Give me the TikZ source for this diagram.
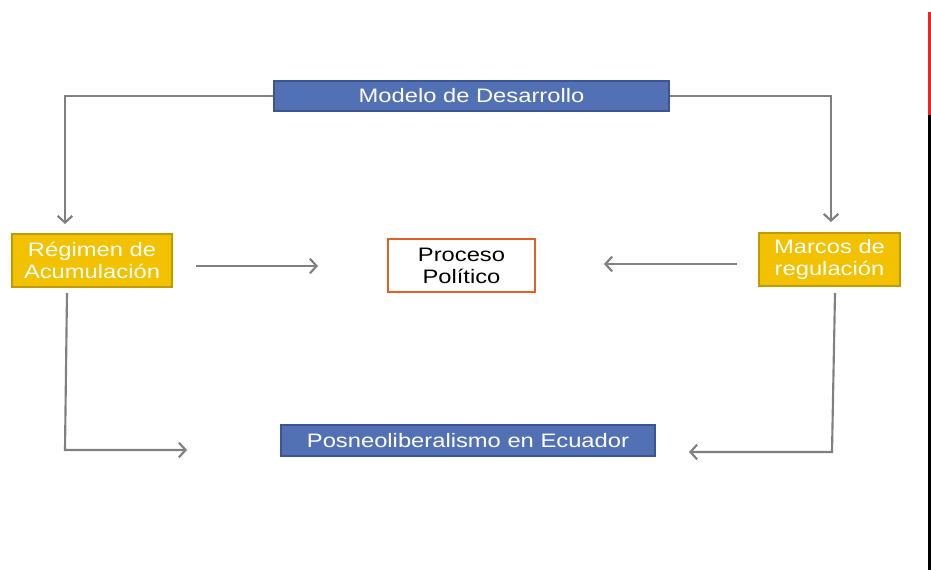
\documentclass[tikz,border=0pt]{standalone}
\usepackage{fontspec}
\usepackage{graphicx}
\setmainfont{Liberation Sans}
\usetikzlibrary{arrows.meta}
\definecolor{bluefill}{HTML}{5270B4}
\definecolor{blueline}{HTML}{3A5590}
\definecolor{yelfill}{HTML}{F2C200}
\definecolor{yelline}{HTML}{C09A00}
\definecolor{orangeline}{HTML}{E0602A}
\definecolor{conn}{HTML}{808080}
\definecolor{barred}{HTML}{E0282E}
\newcommand{\wide}[1]{\scalebox{1.22}[1]{#1}}
\tikzset{
  box/.style={draw, line width=1.2pt, inner sep=0pt, align=center,
    font=\fontsize{14.6pt}{16.5pt}\selectfont},
  bluebox/.style={box, fill=bluefill, draw=blueline, text=white},
  yelbox/.style={box, fill=yelfill, draw=yelline, text=white},
  procbox/.style={box, fill=white, draw=orangeline, text=black},
  link/.style={draw=conn, line width=1.6pt, -{Straight Barb[length=5pt,width=11pt,line width=1.6pt]}}
}
\begin{document}
\begin{tikzpicture}[x=0.75pt,y=-0.75pt]
\useasboundingbox (0,0) rectangle (931,570);
\fill[white] (0,0) rectangle (931,570);
% side bar
\fill[barred] (927.5,12) rectangle (931,115);
\fill[black] (927.5,115) rectangle (931,570);
% boxes
\node[bluebox, minimum width=296.25pt, minimum height=22.5pt] (m) at (471.5,96) {\wide{Modelo de Desarrollo}};
\node[yelbox, minimum width=120pt, minimum height=39.75pt] (r) at (92,260.5) {\wide{Régimen de}\\\wide{Acumulación}};
\node[procbox, minimum width=110.25pt, minimum height=39.75pt] (p) at (461.5,265.5) {\wide{Proceso}\\\wide{Político}};
\node[yelbox, minimum width=105.75pt, minimum height=39.75pt] (k) at (829.5,259.5) {\wide{Marcos de}\\\wide{regulación}};
\node[bluebox, minimum width=280.5pt, minimum height=23.25pt] (e) at (468,440.5) {\wide{Posneoliberalismo en Ecuador}};
% free ends
\coordinate (rin) at (65,224);
\coordinate (kin) at (831,222);
\coordinate (rpa) at (196,266);
\coordinate (rpb) at (318,266);
\coordinate (kpa) at (737,264);
\coordinate (kpb) at (604,264);
\coordinate (rda) at (67,293);
\coordinate (rdb) at (65,450);
\coordinate (rdc) at (187,450);
\coordinate (kda) at (835,293);
\coordinate (kdb) at (832,452);
\coordinate (kdc) at (689,452);
% connectors
\draw[link] (m.west) -| (rin);
\draw[link] (m.east) -| (kin);
\draw[link] (rpa) -- (rpb);
\draw[link] (kpa) -- (kpb);
\draw[link] (rda) -- (rdb) -- (rdc);
\draw[link] (kda) -- (kdb) -- (kdc);
\end{tikzpicture}
\end{document}
